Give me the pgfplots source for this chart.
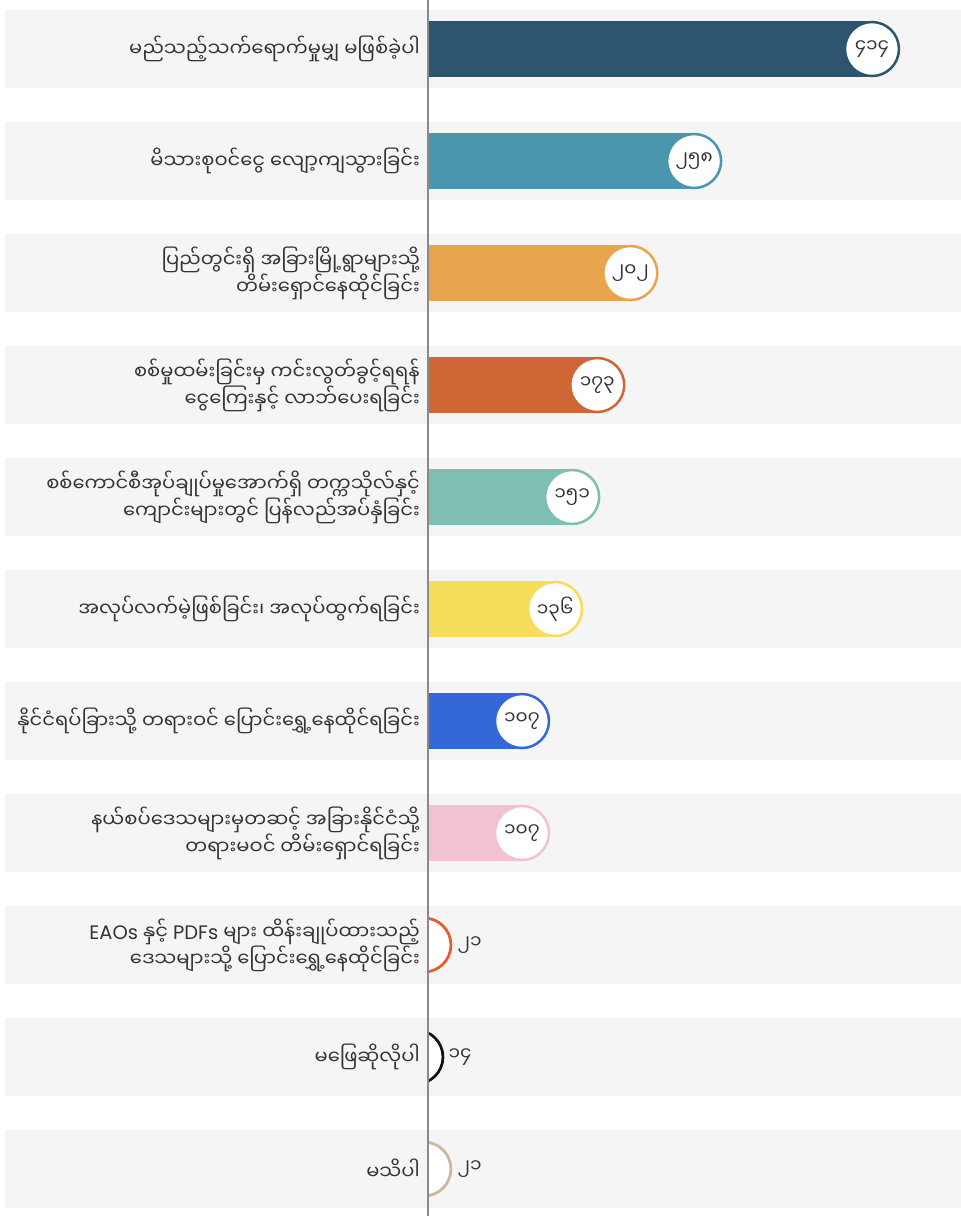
\documentclass[border=0pt]{standalone}
\usepackage{fontspec}
\usepackage{pgfplots}
\pgfplotsset{compat=1.18}
\newfontfamily\myan[Script=Myanmar]{Noto Sans Myanmar UI}
\newfontfamily\lat{Poppins}
\setmainfont{Poppins}
\definecolor{bandgray}{HTML}{F5F5F5}
\definecolor{axisgray}{HTML}{8A8A8A}
\definecolor{textgray}{HTML}{333333}
\definecolor{c1}{HTML}{2E5570}
\definecolor{c2}{HTML}{4A97AD}
\definecolor{c3}{HTML}{E8A54E}
\definecolor{c4}{HTML}{D06535}
\definecolor{c5}{HTML}{7FBFB3}
\definecolor{c6}{HTML}{F5DC5A}
\definecolor{c7}{HTML}{3468D8}
\definecolor{c8}{HTML}{F2C2D3}
\definecolor{c9}{HTML}{E85A2C}
\definecolor{c10}{HTML}{111111}
\definecolor{c11}{HTML}{C9B89B}
\pgfplotsset{
  rbar/.style={xbar, bar width=56pt, fill=#1, draw=none, x filter/.expression={x-24.56}, forget plot},
  rdot/.style={only marks, mark=*, mark size=27pt, mark options={fill=white, draw=#1, line width=2.5pt},
     x filter/.expression={x-24.56}, point meta=explicit symbolic, nodes near coords,
     every node near coord/.append style={anchor=center, font=\myan\fontsize{18.5}{20}\selectfont, text=textgray}},
  sdot/.style n args={3}{only marks, mark=*, mark size=27pt,
     mark options={fill=white, draw=#1, line width=2.7pt, xshift=#2},
     x filter/.expression={max(x-24.56,0.01)}, point meta=explicit symbolic, nodes near coords,
     every node near coord/.append style={anchor=west, xshift=#3, font=\myan\fontsize{18.5}{20}\selectfont, text=textgray}},
}
\begin{document}
\begin{tikzpicture}[x=1pt,y=1pt]
\path[use as bounding box] (0,0) rectangle (961,1216);
\begin{axis}[at={(5pt,0pt)}, anchor=south west, scale only axis,
  width=956pt, height=1216pt, xmin=0, xmax=1,
  ymin=0.5625, ymax=11.4196, y dir=reverse, axis lines=none, clip=true]
\addplot[xbar, bar width=78pt, fill=bandgray, draw=none] coordinates {
 (1,1) (1,2) (1,3) (1,4) (1,5) (1,6) (1,7) (1,8) (1,9) (1,10) (1,11)};
\end{axis}
\begin{axis}[at={(428pt,0pt)}, anchor=south west, scale only axis,
  width=533pt, height=1216pt, xmin=0, xmax=467.54,
  ymin=0.5625, ymax=11.4196, y dir=reverse,
  axis x line=none, axis y line*=left,
  y axis line style={draw=axisgray, line width=1.3pt, -},
  axis on top, clip marker paths=true,
  ytick={1,2,3,4,5,6,7,8,9,10,11}, major tick length=0pt,
  yticklabel style={align=right, font=\myan\fontsize{19.5}{25}\selectfont, text=textgray, inner sep=0pt, xshift=-8pt},
  yticklabels={
    {မည်သည့်သက်ရောက်မှုမျှ မဖြစ်ခဲ့ပါ},
    {မိသားစုဝင်ငွေ လျော့ကျသွားခြင်း},
    {ပြည်တွင်းရှိ အခြားမြို့ရွာများသို့\\တိမ်းရှောင်နေထိုင်ခြင်း},
    {စစ်မှုထမ်းခြင်းမှ ကင်းလွတ်ခွင့်ရရန်\\ငွေကြေးနှင့် လာဘ်ပေးရခြင်း},
    {စစ်ကောင်စီအုပ်ချုပ်မှုအောက်ရှိ တက္ကသိုလ်နှင့်\\ကျောင်းများတွင်  ပြန်လည်အပ်နှံခြင်း},
    {အလုပ်လက်မဲ့ဖြစ်ခြင်း၊ အလုပ်ထွက်ရခြင်း},
    {နိုင်ငံရပ်ခြားသို့ တရားဝင် ပြောင်းရွှေ့နေထိုင်ရခြင်း},
    {နယ်စပ်ဒေသများမှတဆင့် အခြားနိုင်ငံသို့\\တရားမဝင် တိမ်းရှောင်ရခြင်း},
    {{\lat EAOs} နှင့် {\lat PDFs} များ ထိန်းချုပ်ထားသည့်\\ဒေသများသို့ ပြောင်းရွှေ့နေထိုင်ခြင်း},
    {မဖြေဆိုလိုပါ},
    {မသိပါ}},
]
\addplot[rbar=c1] coordinates {(414,1)};
\addplot[rbar=c2] coordinates {(258,2)};
\addplot[rbar=c3] coordinates {(202,3)};
\addplot[rbar=c4] coordinates {(173,4)};
\addplot[rbar=c5] coordinates {(151,5)};
\addplot[rbar=c6] coordinates {(136,6)};
\addplot[rbar=c7] coordinates {(107,7)};
\addplot[rbar=c8] coordinates {(107,8)};
\addplot[rdot=c1] coordinates {(414,1) [၄၁၄]};
\addplot[rdot=c2] coordinates {(258,2) [၂၅၈]};
\addplot[rdot=c3] coordinates {(202,3) [၂၀၂]};
\addplot[rdot=c4] coordinates {(173,4) [၁၇၃]};
\addplot[rdot=c5] coordinates {(151,5) [၁၅၁]};
\addplot[rdot=c6] coordinates {(136,6) [၁၃၆]};
\addplot[rdot=c7] coordinates {(107,7) [၁၀၇]};
\addplot[rdot=c8] coordinates {(107,8) [၁၀၇]};
% small values: circle centre lies left of the axis (21-24.56 and 14-24.56 units)
\addplot[sdot={c9}{-4.07pt}{29pt}] coordinates {(21,9) [၂၁]};
\addplot[sdot={c10}{-12.05pt}{28pt}] coordinates {(14,10) [၁၄]};
\addplot[sdot={c11}{-4.07pt}{29pt}] coordinates {(21,11) [၂၁]};
\end{axis}
\end{tikzpicture}
\end{document}
